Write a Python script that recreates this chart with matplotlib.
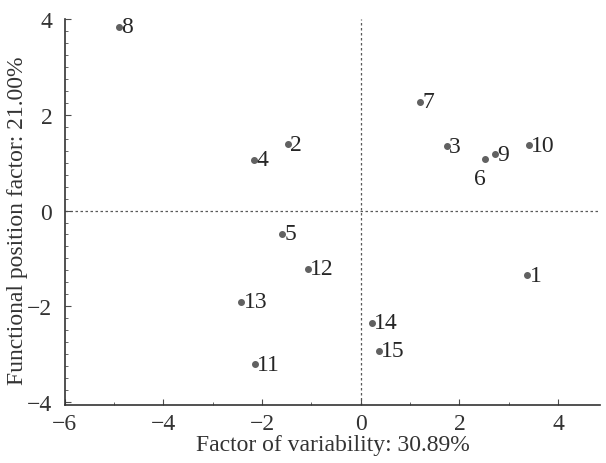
import matplotlib
matplotlib.use("Agg")
from matplotlib import pyplot as plt
from matplotlib.ticker import MultipleLocator

# factor scores
labels = ["1", "2", "3", "4", "5", "6", "7", "8", "9", "10", "11", "12", "13", "14", "15"]
variability = [3.38, -1.47, 1.74, -2.16, -1.59, 2.52, 1.21, -4.90, 2.72, 3.41, -2.15, -1.07, -2.42, 0.22, 0.37]
position = [-1.35, 1.38, 1.34, 1.06, -0.48, 1.07, 2.27, 3.84, 1.18, 1.36, -3.21, -1.22, -1.90, -2.34, -2.93]

plt.rcParams["font.family"] = ["Liberation Serif", "DejaVu Serif"]
FS = 17

fig = plt.figure(figsize=(6.06, 4.64), dpi=100)
ax = fig.add_axes([0.107, 0.125, 0.883, 0.832])

ax.axhline(0, color="0.35", linestyle=(0, (2, 2)), linewidth=0.9, zorder=1)
ax.axvline(0, color="0.35", linestyle=(0, (2, 2)), linewidth=0.9, zorder=1)

ax.plot(variability, position, "o", color="0.38", markersize=4, zorder=3)

for lab, x, y in zip(labels, variability, position):
    if lab == "6":
        ax.annotate(lab, (x, y), xytext=(-4, -6), textcoords="offset points",
                    ha="center", va="top", fontsize=FS, color="0.15")
    else:
        ax.annotate(lab, (x, y), xytext=(1.5, 0), textcoords="offset points",
                    ha="left", va="center", fontsize=FS, color="0.15")

ax.set_xlim(-6, 4.85)
ax.set_ylim(-4.06, 4.0)
ax.xaxis.set_minor_locator(MultipleLocator(1))
ax.yaxis.set_minor_locator(MultipleLocator(0.25))

for s in ["top", "right"]:
    ax.spines[s].set_visible(False)
for s in ["left", "bottom"]:
    ax.spines[s].set_linewidth(1.2)
    ax.spines[s].set_color("0.2")

ax.tick_params(which="both", direction="in", colors="0.3", labelcolor="0.2", labelsize=FS)
ax.tick_params(which="major", length=4)
ax.tick_params(which="minor", length=2.5)
ax.tick_params(axis="x", which="major", pad=6)
ax.tick_params(axis="y", which="major", pad=9)
ax.set_xticks([-6, -4, -2, 0, 2, 4])
ax.set_xticklabels(["\u22126", "\u22124", "\u22122", "0", "2", "4"])
ax.set_yticks([-4, -2, 0, 2, 4])
ax.set_yticklabels(["\u22124", "\u22122", "0", "2", "4"])

ax.set_xlabel("Factor of variability: 30.89%", fontsize=FS, color="0.2", labelpad=0)
ax.set_ylabel("Functional position factor: 21.00%", fontsize=FS, color="0.2")
ax.yaxis.set_label_coords(-0.069, 0.48)

plt.savefig("out.png", dpi=100)
